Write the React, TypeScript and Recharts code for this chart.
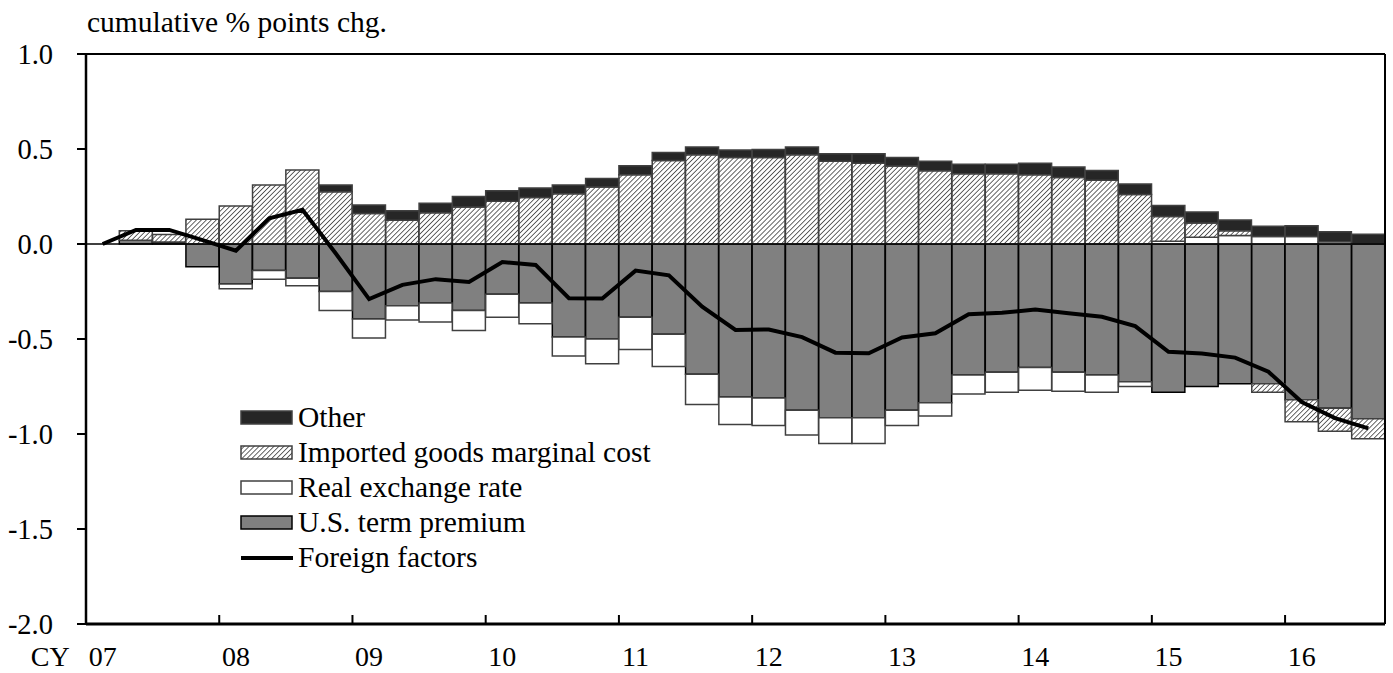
import React from "react";
import {
  ComposedChart,
  Bar,
  Line,
  XAxis,
  YAxis,
  ReferenceLine,
  Legend,
} from "recharts";

const FONT = '"Liberation Serif", "Times New Roman", serif';

// quarterly, 07Q1 .. 16Q3
const quarters = [
  "07Q1", "07Q2", "07Q3", "07Q4",
  "08Q1", "08Q2", "08Q3", "08Q4",
  "09Q1", "09Q2", "09Q3", "09Q4",
  "10Q1", "10Q2", "10Q3", "10Q4",
  "11Q1", "11Q2", "11Q3", "11Q4",
  "12Q1", "12Q2", "12Q3", "12Q4",
  "13Q1", "13Q2", "13Q3", "13Q4",
  "14Q1", "14Q2", "14Q3", "14Q4",
  "15Q1", "15Q2", "15Q3", "15Q4",
  "16Q1", "16Q2", "16Q3",
];

const yearLabels = ["07", "08", "09", "10", "11", "12", "13", "14", "15", "16"];

const termPremium = [
  0, 0.02, 0.01, -0.12, -0.21, -0.14, -0.18, -0.25,
  -0.395, -0.325, -0.31, -0.35, -0.265, -0.31, -0.49, -0.5,
  -0.385, -0.475, -0.685, -0.805, -0.81, -0.875, -0.915, -0.915,
  -0.875, -0.835, -0.69, -0.675, -0.65, -0.675, -0.69, -0.725,
  -0.78, -0.75, -0.735, -0.735, -0.82, -0.865, -0.92,
];

const realExchangeRate = [
  0, 0, 0, 0, -0.025, -0.045, -0.04, -0.1,
  -0.1, -0.075, -0.1, -0.105, -0.12, -0.11, -0.1, -0.13,
  -0.17, -0.17, -0.16, -0.145, -0.145, -0.13, -0.135, -0.135,
  -0.08, -0.07, -0.1, -0.105, -0.12, -0.1, -0.09, -0.025,
  0.015, 0.035, 0.045, 0.04, 0.04, 0.012, 0,
];

const importedGoods = [
  0, 0.05, 0.04, 0.13, 0.2, 0.31, 0.39, 0.275,
  0.16, 0.125, 0.165, 0.195, 0.225, 0.245, 0.265, 0.3,
  0.365, 0.44, 0.47, 0.455, 0.455, 0.47, 0.435, 0.425,
  0.41, 0.385, 0.37, 0.37, 0.365, 0.35, 0.335, 0.26,
  0.13, 0.075, 0.025, -0.045, -0.115, -0.12, -0.105,
];

const other = [
  0, 0, 0, 0, 0, 0, 0, 0.035,
  0.045, 0.05, 0.05, 0.055, 0.055, 0.05, 0.045, 0.045,
  0.047, 0.042, 0.041, 0.04, 0.042, 0.04, 0.04, 0.05,
  0.045, 0.05, 0.05, 0.05, 0.06, 0.055, 0.052, 0.056,
  0.058, 0.058, 0.056, 0.053, 0.056, 0.053, 0.051,
];

const foreignFactors = [
  0, 0.074, 0.074, 0.02, -0.035, 0.135, 0.18, -0.05,
  -0.29, -0.215, -0.185, -0.2, -0.095, -0.11, -0.285, -0.287,
  -0.14, -0.165, -0.33, -0.452, -0.45, -0.49, -0.572, -0.575,
  -0.492, -0.47, -0.37, -0.362, -0.345, -0.365, -0.383, -0.432,
  -0.567, -0.576, -0.598, -0.672, -0.832, -0.916, -0.97,
];

const yTicks = [-2, -1.5, -1, -0.5, 0, 0.5, 1];

const data = quarters.map((q, i) => ({
  q,
  tp: termPremium[i],
  rer: realExchangeRate[i],
  imc: importedGoods[i],
  other: other[i],
  ff: foreignFactors[i],
}));

const W = 1393;
const H = 673;
const PLOT_W = 1299;

function XTick(props: any) {
  const { x, y, payload } = props;
  const i = payload.index;
  if (i % 4 !== 0) return null;
  const half = payload.offset ?? PLOT_W / quarters.length / 2;
  return (
    <g>
      {i > 0 && (
        <line x1={x - half} x2={x - half} y1={y} y2={y - 9} stroke="#000" strokeWidth={2} />
      )}
      <text x={x} y={y + 42} textAnchor="middle" fontFamily={FONT} fontSize={28} fill="#000">
        {yearLabels[i / 4]}
      </text>
      {i === 0 && (
        <text x={x - 33} y={y + 42} textAnchor="end" fontFamily={FONT} fontSize={28} fill="#000">
          CY
        </text>
      )}
    </g>
  );
}

const legendItems = [
  { label: "Other", fill: "#262626", stroke: "#404040" },
  { label: "Imported goods marginal cost", fill: "url(#hatchLegend)", stroke: "#404040" },
  { label: "Real exchange rate", fill: "#ffffff", stroke: "#404040" },
  { label: "U.S. term premium", fill: "#808080", stroke: "#000000" },
  { label: "Foreign factors", line: true },
];

function LegendBox() {
  return (
    <div style={{ fontFamily: FONT, fontSize: 29.5, color: "#000" }}>
      {legendItems.map((it) => (
        <div key={it.label} style={{ display: "flex", alignItems: "center", height: 35 }}>
          <svg width={54} height={16} style={{ marginRight: 4 }}>
            <defs>
              <pattern id="hatchLegend" patternUnits="userSpaceOnUse" width={3.5} height={3.5} patternTransform="rotate(45)">
                <rect width={3.5} height={3.5} fill="#fff" />
                <line x1={0} y1={0} x2={0} y2={3.5} stroke="#333" strokeWidth={1.5} />
              </pattern>
            </defs>
            {it.line ? (
              <line x1={1} x2={53} y1={8} y2={8} stroke="#000" strokeWidth={4} />
            ) : (
              <rect x={1} y={1} width={51} height={13} fill={it.fill} stroke={it.stroke} strokeWidth={1.5} />
            )}
          </svg>
          <span style={{ lineHeight: "35px", whiteSpace: "nowrap" }}>{it.label}</span>
        </div>
      ))}
    </div>
  );
}

export default function App() {
  return (
    <div style={{ position: "absolute", left: 0, top: 0, width: W, height: H, background: "#fff" }}>
      <div
        style={{
          position: "absolute",
          left: 87,
          top: 7,
          fontFamily: FONT,
          fontSize: 29.5,
          lineHeight: "30px",
          color: "#000",
          whiteSpace: "nowrap",
        }}
      >
        cumulative % points chg.
      </div>
      <ComposedChart
        width={W}
        height={H}
        data={data}
        stackOffset="sign"
        barCategoryGap={0}
        margin={{ top: 54, right: 0, bottom: 0, left: 0 }}
      >
        <defs>
          <pattern id="hatch" patternUnits="userSpaceOnUse" width={3.5} height={3.5} patternTransform="rotate(45)">
            <rect width={3.5} height={3.5} fill="#fff" />
            <line x1={0} y1={0} x2={0} y2={3.5} stroke="#333" strokeWidth={1.5} />
          </pattern>
        </defs>
        <XAxis
          dataKey="q"
          height={49}
          interval={0}
          tickLine={false}
          tickSize={0}
          tickMargin={0}
          axisLine={{ stroke: "#000", strokeWidth: 3 }}
          tick={<XTick />}
        />
        <YAxis
          width={86}
          domain={[-2, 1]}
          ticks={yTicks}
          allowDataOverflow
          tickFormatter={(v: number) => v.toFixed(1)}
          tickSize={9}
          tickMargin={24}
          tickLine={{ stroke: "#000", strokeWidth: 2 }}
          axisLine={{ stroke: "#000", strokeWidth: 2.5 }}
          tick={{ fill: "#000", fontSize: 28.5, fontFamily: FONT }}
        />
        <YAxis
          yAxisId="right"
          orientation="right"
          width={8}
          domain={[-2, 1]}
          tick={false}
          tickLine={false}
          axisLine={{ stroke: "#000", strokeWidth: 2 }}
        />
        <ReferenceLine y={1} stroke="#000" strokeWidth={2} />
        <Legend
          layout="horizontal"
          verticalAlign="middle"
          align="center"
          content={() => <LegendBox />}
          wrapperStyle={{ position: "absolute", left: 240, top: 400, width: "auto", height: "auto" }}
        />
        <Bar dataKey="tp" stackId="a" fill="#808080" stroke="#000" strokeWidth={1.5} isAnimationActive={false} />
        <Bar dataKey="rer" stackId="a" fill="#ffffff" stroke="#404040" strokeWidth={1.5} isAnimationActive={false} />
        <Bar dataKey="imc" stackId="a" fill="url(#hatch)" stroke="#404040" strokeWidth={1.5} isAnimationActive={false} />
        <Bar dataKey="other" stackId="a" fill="#262626" stroke="#404040" strokeWidth={1.5} isAnimationActive={false} />
        <ReferenceLine y={0} stroke="#000" strokeWidth={1.5} />
        <Line
          type="linear"
          dataKey="ff"
          stroke="#000"
          strokeWidth={4}
          dot={false}
          isAnimationActive={false}
        />
      </ComposedChart>
    </div>
  );
}
